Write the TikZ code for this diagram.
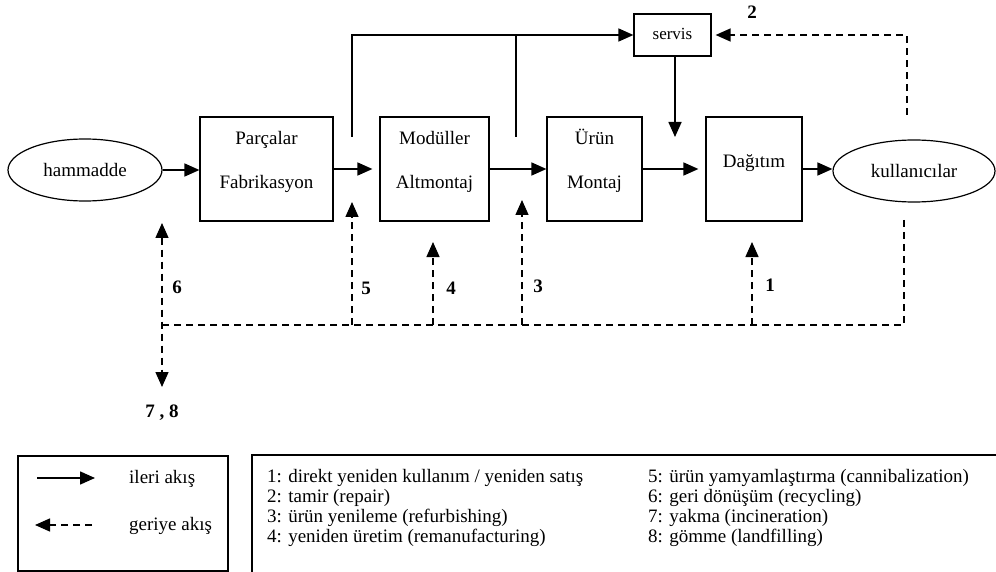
\documentclass[tikz,border=0pt]{standalone}
\usepackage{fontspec}
\setmainfont{Liberation Serif}
\usetikzlibrary{arrows.meta,shapes.geometric}

\begin{document}
\begin{tikzpicture}[x=1pt,y=-1pt,
    box/.style={draw,line width=1.2pt,inner sep=0pt,minimum height=104pt},
    oval/.style={draw,ellipse,line width=1.2pt,inner sep=0pt,minimum height=62pt,
      font=\fontsize{19}{19}\selectfont},
    txt/.style={anchor=base,inner sep=0pt,font=\fontsize{19}{19}\selectfont},
    num/.style={anchor=base,inner sep=0pt,font=\fontsize{19}{19}\selectfont\bfseries},
    fwd/.style={line width=1.6pt,-{Triangle[length=15pt,width=13pt]}},
    rline/.style={line width=1.4pt,dash pattern=on 7pt off 5pt},
    bwd/.style={rline,-{Triangle[length=15pt,width=13pt]}}]
	\useasboundingbox (0,0) rectangle (996,572);

	% Draw the boxes
	\node[oval,minimum width=154pt] (ham) at (85,170) {hammadde};
	\node[box,minimum width=133pt] (parca) at (266.5,169) {};
	\node[box,minimum width=109pt] (modul) at (434.5,169) {};
	\node[box,minimum width=95pt] (urun) at (594.5,169) {};
	\node[box,minimum width=96pt] (dagitim) at (754,169) {};
	\node[oval,minimum width=162pt] (kull) at (914,171) {kullanıcılar};
	\node[box,minimum width=77pt,minimum height=42pt] (servis) at (672.5,35) {};

	% Texts in the boxes
	\node[txt] (parcaA) at (266.5,145) {Parçalar};
	\node[txt] (parcaB) at (266.5,189) {Fabrikasyon};
	\node[txt] (modulA) at (434.5,145) {Modüller};
	\node[txt] (modulB) at (434.5,189) {Altmontaj};
	\node[txt] (urunA) at (594.5,145) {Ürün};
	\node[txt] (urunB) at (594.5,189) {Montaj};
	\node[txt] (dagitimA) at (754,168) {Dağıtım};
	\node[txt,font=\fontsize{17}{17}\selectfont] (servisA) at (672.5,40) {servis};

	% Forward flow
	\draw[fwd] (ham.east) -- (ham.east -| parca.west);
	\draw[fwd,shorten >=7pt] (parca.east) -- (modul.west);
	\draw[fwd] (modul) -- (urun);
	\draw[fwd,shorten >=7pt] (urun) -- (dagitim);
	\draw[fwd] (dagitim.east) -- (dagitim.east -| kull.west);

	\coordinate (up1) at (352,137);
	\coordinate (up2) at (516,137);
	\coordinate (down1) at (675,137);
	\draw[fwd] (up1) |- (servis.west);
	\draw[line width=1.6pt] (up2) -- (up2 |- servis.west);
	\draw[fwd] (servis.south -| down1) -- (down1);

	% Reverse flow
	\coordinate (k2) at (907,115);
	\coordinate (k1) at (904,220);
	\coordinate (c6) at (162,325);
	\coordinate (r6a) at (162,223);
	\coordinate (r6b) at (162,387);
	\coordinate (r5) at (352,202);
	\coordinate (r4) at (433,242);
	\coordinate (r3) at (522,200);
	\coordinate (r1) at (752,242);

	\draw[bwd,shorten >=4pt] (k2) |- (servis.east);
	\draw[rline] (k1) |- (c6);
	\draw[rline,{Triangle[length=15pt,width=13pt]}-{Triangle[length=15pt,width=13pt]}] (r6a) -- (r6b);
	\draw[bwd] (r5 |- c6) -- (r5);
	\draw[bwd] (r4 |- c6) -- (r4);
	\draw[bwd] (r3 |- c6) -- (r3);
	\draw[bwd] (r1 |- c6) -- (r1);

	% Labels
	\node[num] (n1) at (770,291) {1};
	\node[num] (n2) at (752,19) {2};
	\node[num] (n3) at (538,292) {3};
	\node[num] (n4) at (451,294) {4};
	\node[num] (n5) at (366,294) {5};
	\node[num] (n6) at (177,293) {6};
	\node[num] (n78) at (162,417) {7 , 8};

	% Legend
	\node[draw,line width=1.2pt,minimum width=210pt,minimum height=115pt] (leg1) at (123,513.5) {};
	\coordinate (leg2a) at (252,572);
	\coordinate (leg2b) at (996,455);
	\draw[line width=1.2pt] (leg2a) |- (leg2b);

	\coordinate (la1) at (37,478);
	\coordinate (la2) at (95,478);
	\coordinate (lb1) at (92,525);
	\coordinate (lb2) at (35,525);
	\draw[fwd] (la1) -- (la2);
	\draw[bwd] (lb1) -- (lb2);
	\node[txt,anchor=base west] (ileri) at (129,483) {ileri akış};
	\node[txt,anchor=base west] (geri) at (129,530) {geriye akış};

	\node[txt,anchor=base west] (t1) at (267,482) {1: direkt yeniden kullanım / yeniden satış};
	\node[txt,anchor=base west] (t2) at (267,502) {2: tamir (repair)};
	\node[txt,anchor=base west] (t3) at (267,522) {3: ürün yenileme (refurbishing)};
	\node[txt,anchor=base west] (t4) at (267,542) {4: yeniden üretim (remanufacturing)};
	\node[txt,anchor=base west] (t5) at (648,482) {5: ürün yamyamlaştırma (cannibalization)};
	\node[txt,anchor=base west] (t6) at (648,502) {6: geri dönüşüm (recycling)};
	\node[txt,anchor=base west] (t7) at (648,522) {7: yakma (incineration)};
	\node[txt,anchor=base west] (t8) at (648,542) {8: gömme (landfilling)};
\end{tikzpicture}
\end{document}
